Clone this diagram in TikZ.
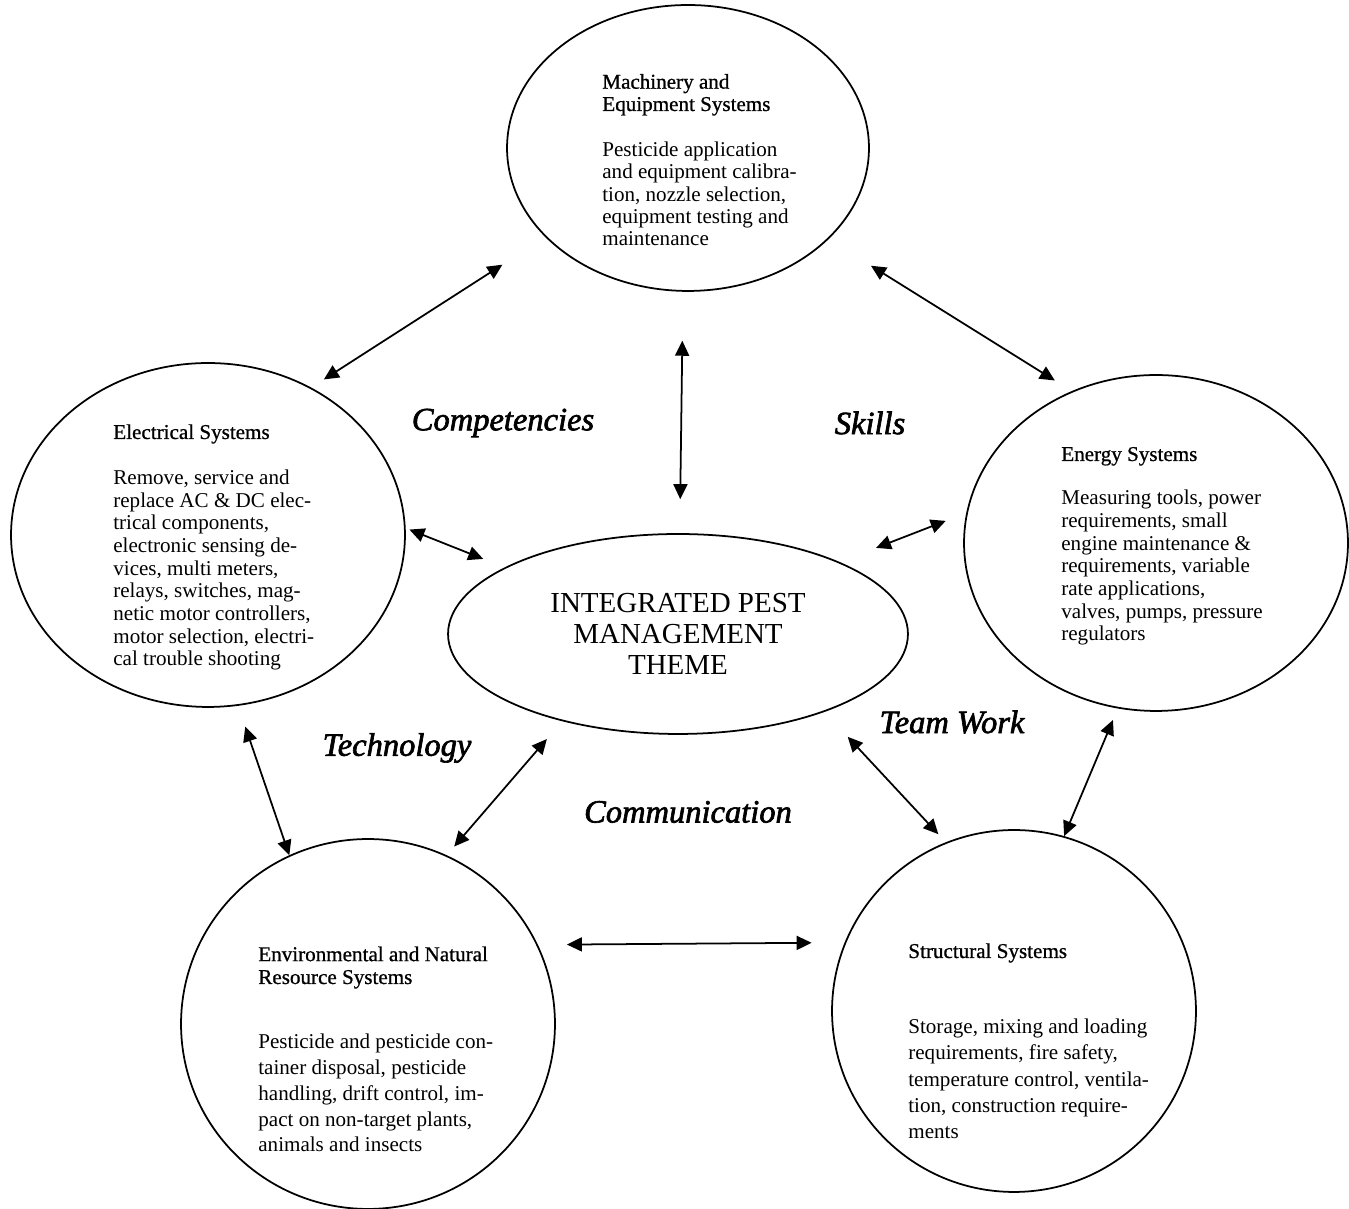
\documentclass[tikz,border=0pt]{standalone}
\usepackage{fontspec}
\setmainfont{Liberation Serif}
\newfontface\titlefont{Liberation Serif}[FakeBold=0.8]
\newfontface\themefont{Liberation Serif Italic}[FakeBold=2]
\usetikzlibrary{arrows.meta,shapes.geometric}

\begin{document}
\begin{tikzpicture}[x=0.02cm,y=0.02cm,
  sysellipse/.style={ellipse, draw, line width=1pt, inner sep=0pt},
  systitle/.style={anchor=base west, inner sep=0pt, align=left,
                   font=\titlefont\fontsize{12}{12.7}\selectfont},
  systext/.style={anchor=base west, inner sep=0pt, align=left,
                  font=\fontsize{12}{12.9}\selectfont},
  themeword/.style={inner sep=0pt, font=\themefont\fontsize{18.5}{20}\selectfont},
  biarrow/.style={{Triangle[length=0.3cm,width=0.28cm]}-{Triangle[length=0.3cm,width=0.28cm]},
                  line width=1pt}]
  \useasboundingbox (0,0) rectangle (1349,1209);

  \node[sysellipse, minimum width=7.24cm, minimum height=5.72cm] (mach) at (688,1061) {};
  \node[sysellipse, minimum width=7.88cm, minimum height=6.88cm] (elec) at (208,674) {};
  \node[sysellipse, minimum width=7.68cm, minimum height=6.72cm] (ener) at (1156,666) {};
  \node[sysellipse, minimum width=7.48cm, minimum height=7.40cm] (env) at (368,185) {};
  \node[sysellipse, minimum width=7.28cm, minimum height=7.24cm] (struc) at (1014,198) {};
  \node[sysellipse, minimum width=9.2cm, minimum height=4.0cm, align=center,
        font=\fontsize{16.5}{17.6}\selectfont] (ipm) at (678,575)
    {INTEGRATED PEST\\MANAGEMENT\\THEME};

  % base anchor sits on the last line
  \node[systitle] (machttl) at (602,1098) {Machinery and\\Equipment Systems};
  \node[systext, font=\fontsize{12}{12.75}\selectfont] (machtxt) at (602,963)
    {Pesticide application\\and equipment calibra-\\tion, nozzle selection,\\equipment testing and\\maintenance};
  \node[systitle] (electtl) at (113,770) {Electrical Systems};
  \node[systext] (electxt) at (113,543)
    {Remove, service and\\replace AC \& DC elec-\\trical components,\\electronic sensing de-\\vices, multi meters,\\relays, switches, mag-\\netic motor controllers,\\motor selection, electri-\\cal trouble shooting};
  \node[systitle] (enerttl) at (1061,748) {Energy Systems};
  \node[systext] (enertxt) at (1061,568)
    {Measuring tools, power\\requirements, small\\engine maintenance \&\\requirements, variable\\rate applications,\\valves, pumps, pressure\\regulators};
  \node[systitle, font=\titlefont\fontsize{12}{13}\selectfont] (envttl) at (258,225)
    {Environmental and Natural\\Resource Systems};
  \node[systext, font=\fontsize{12}{14.75}\selectfont] (envtxt) at (258,57)
    {Pesticide and pesticide con-\\tainer disposal, pesticide\\handling, drift control, im-\\pact on non-target plants,\\animals and insects};
  \node[systitle] (structtl) at (908,251) {Structural Systems};
  \node[systext, font=\fontsize{12}{15}\selectfont] (structxt) at (908,70)
    {Storage, mixing and loading\\requirements, fire safety,\\temperature control, ventila-\\tion, construction require-\\ments};

  \node[themeword] (compet) at (503,786) {Competencies};
  \node[themeword] (skills) at (870,786) {Skills};
  \node[themeword] (techno) at (397,461) {Technology};
  \node[themeword] (teamwk) at (952,487) {Team Work};
  \node[themeword] (commun) at (688,397) {Communication};

  \draw[biarrow, shorten <=0.3cm, shorten >=1.02cm] (elec.55.5) -- (mach.212.8);
  \draw[biarrow, shorten <=0.98cm, shorten >=0.68cm] (mach.268) -- (ipm.89);
  \draw[biarrow, shorten <=1.0cm, shorten >=0.4cm] (mach.-33) -- (ener.119.7);
  \draw[biarrow, shorten <=0.08cm, shorten >=0.46cm] (elec.2.9) -- (ipm.159.2);
  \draw[biarrow, shorten <=0.78cm, shorten >=0.44cm] (ipm.24.6) -- (ener.171.9);
  \draw[biarrow, shorten <=0.44cm] (elec.-80.5) -- (env.115);
  \draw[biarrow, shorten <=0.47cm, shorten >=0.23cm] (ipm.217.2) -- (env.65.4);
  \draw[biarrow, shorten <=0.68cm, shorten >=0.22cm] (ipm.-28.4) -- (struc.112);
  \draw[biarrow, shorten <=0.25cm] (ener.-103) -- (struc.74.1);
  \draw[biarrow, shorten <=0.58cm, shorten >=0.66cm] (env.25.7) -- (struc.158);
\end{tikzpicture}
\end{document}
